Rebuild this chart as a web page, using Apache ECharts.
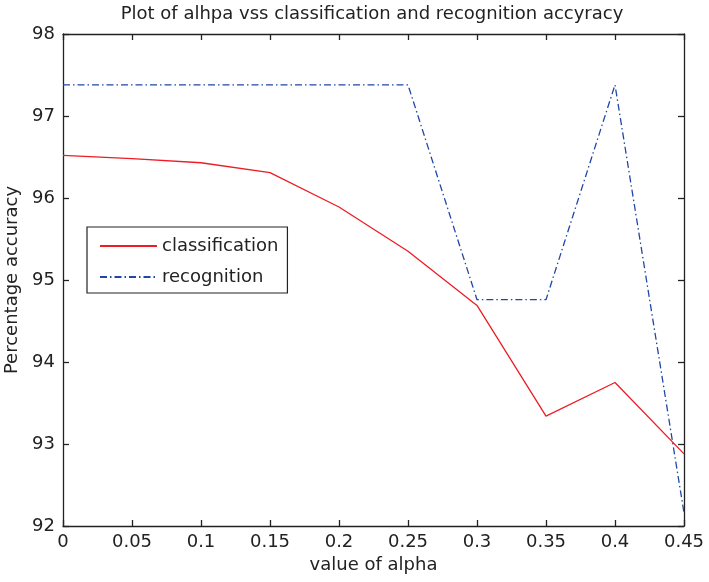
<!DOCTYPE html>
<html>
<head>
<meta charset="utf-8">
<script src="https://cdn.jsdelivr.net/npm/echarts@6/dist/echarts.min.js"></script>
<style>
html,body{margin:0;padding:0;background:#fff;}
#chart{width:709px;height:582px;}
</style>
</head>
<body>
<div id="chart"></div>
<script>
var alpha = [0, 0.05, 0.1, 0.15, 0.2, 0.25, 0.3, 0.35, 0.4, 0.45];
var classification = [96.52, 96.48, 96.43, 96.31, 95.89, 95.35, 94.69, 93.34, 93.75, 92.88];
var recognition = [97.38, 97.38, 97.38, 97.38, 97.38, 97.38, 94.76, 94.76, 97.38, 92.16];
var titleText = 'Plot of alhpa vss classification and recognition accyracy';
var xName = 'value of alpha';
var yName = 'Percentage accuracy';

function pairs(xs, ys) { return xs.map(function (x, i) { return [x, ys[i]]; }); }

var font = 'DejaVu Sans, Verdana, sans-serif';
var axisLineStyle = { color: '#222', width: 1.3 };
var chart = echarts.init(document.getElementById('chart'), null, { renderer: 'canvas' });
chart.setOption({
  animation: false,
  backgroundColor: '#fff',
  textStyle: { fontFamily: font },
  title: {
    text: titleText,
    left: 367, textAlign: 'center', top: 0,
    textStyle: { fontFamily: font, fontSize: 18, fontWeight: 'normal', color: '#222' }
  },
  grid: { left: 63, right: 25, top: 34, bottom: 56, containLabel: false, outerBoundsMode: 'none' },
  legend: {
    orient: 'vertical',
    left: 87, top: 227,
    padding: [10, 9, 7, 12],
    itemWidth: 57, itemHeight: 14, itemGap: 13,
    backgroundColor: '#fff',
    borderColor: '#222', borderWidth: 1.2,
    itemStyle: { opacity: 0 },
    textStyle: { fontFamily: font, fontSize: 18, color: '#222' },
    data: ['classification', 'recognition']
  },
  xAxis: [{
    type: 'value', min: 0, max: 0.45, interval: 0.05,
    name: xName, nameLocation: 'middle', nameGap: 30,
    nameTextStyle: { fontFamily: font, fontSize: 18, color: '#222' },
    axisLine: { show: true, onZero: false, lineStyle: axisLineStyle },
    axisTick: { show: true, inside: true, length: 6, lineStyle: axisLineStyle },
    axisLabel: { fontFamily: font, fontSize: 18, color: '#222', margin: 7 },
    splitLine: { show: false }
  }, {
    type: 'value', position: 'top', min: 0, max: 0.45, interval: 0.05,
    axisLine: { show: true, onZero: false, lineStyle: axisLineStyle },
    axisTick: { show: true, inside: true, length: 6, lineStyle: axisLineStyle },
    axisLabel: { show: false },
    splitLine: { show: false }
  }],
  yAxis: [{
    type: 'value', min: 92, max: 98, interval: 1,
    name: yName, nameLocation: 'middle', nameGap: 34,
    nameTextStyle: { fontFamily: font, fontSize: 18, color: '#222' },
    axisLine: { show: true, onZero: false, lineStyle: axisLineStyle },
    axisTick: { show: true, inside: true, length: 6, lineStyle: axisLineStyle },
    axisLabel: { fontFamily: font, fontSize: 18, color: '#222', margin: 8 },
    splitLine: { show: false }
  }, {
    type: 'value', position: 'right', min: 92, max: 98, interval: 1,
    axisLine: { show: true, onZero: false, lineStyle: axisLineStyle },
    axisTick: { show: true, inside: true, length: 6, lineStyle: axisLineStyle },
    axisLabel: { show: false },
    splitLine: { show: false }
  }],
  series: [{
    name: 'classification', type: 'line',
    data: pairs(alpha, classification),
    symbol: 'none', showSymbol: false,
    color: '#ee1c24',
    lineStyle: { color: '#ee1c24', width: 1.3 }
  }, {
    name: 'recognition', type: 'line',
    data: pairs(alpha, recognition),
    symbol: 'none', showSymbol: false,
    color: '#2146a8',
    lineStyle: { color: '#2146a8', width: 1.3, type: [7, 3, 1.5, 3] }
  }]
});
</script>
</body>
</html>
